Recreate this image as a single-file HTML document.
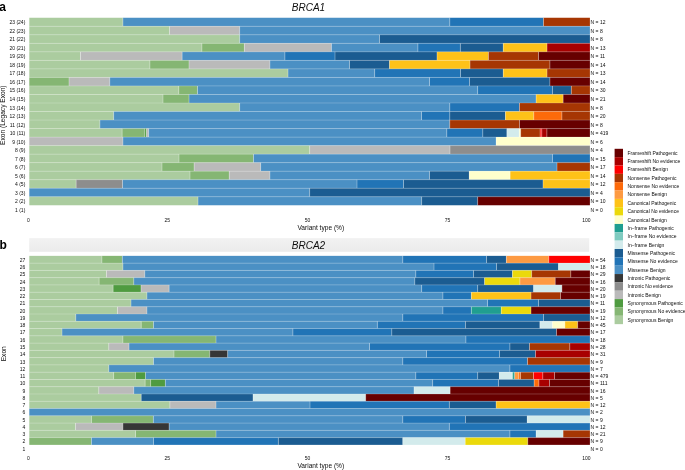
<!DOCTYPE html>
<html><head><meta charset="utf-8"><style>
html,body{margin:0;padding:0;background:#fff;width:685px;height:470px;overflow:hidden}
svg{display:block;will-change:transform}
text{font-family:'Liberation Sans', sans-serif;fill:#0d0d0d}
.s{font-size:5px}
.ax{font-size:6.6px}
.ttl{font-size:10px;font-style:italic}
.lab{font-size:12px;font-weight:bold;fill:#000}

</style></head><body>
<svg width="685" height="470" viewBox="0 0 685 470">
<rect x="0" y="0" width="685" height="470" fill="#fff"/>
<text x="-0.8" y="10.6" class="lab">a</text>
<text x="308.5" y="10.6" class="ttl" text-anchor="middle">BRCA1</text>
<g class="bars">
<rect x="29.3" y="17.75" width="93.6" height="8.52" fill="#abcc9f"/>
<rect x="122.9" y="17.75" width="326.9" height="8.52" fill="#4b90c4"/>
<rect x="449.8" y="17.75" width="93.7" height="8.52" fill="#2174b6"/>
<rect x="543.5" y="17.75" width="46.4" height="8.52" fill="#a63603"/>
<rect x="122.5" y="17.75" width="0.8" height="8.52" fill="#fff" fill-opacity="0.4"/>
<rect x="449.4" y="17.75" width="0.8" height="8.52" fill="#fff" fill-opacity="0.4"/>
<rect x="543.1" y="17.75" width="0.8" height="8.52" fill="#fff" fill-opacity="0.4"/>
<rect x="29.3" y="26.27" width="140.3" height="8.52" fill="#abcc9f"/>
<rect x="169.6" y="26.27" width="70.1" height="8.52" fill="#bababa"/>
<rect x="239.7" y="26.27" width="350.2" height="8.52" fill="#4b90c4"/>
<rect x="169.2" y="26.27" width="0.8" height="8.52" fill="#fff" fill-opacity="0.4"/>
<rect x="239.3" y="26.27" width="0.8" height="8.52" fill="#fff" fill-opacity="0.4"/>
<rect x="29.3" y="25.77" width="560.6" height="1" fill="#fff" fill-opacity="0.2"/>
<rect x="29.3" y="34.8" width="210.4" height="8.52" fill="#abcc9f"/>
<rect x="239.7" y="34.8" width="139.9" height="8.52" fill="#4b90c4"/>
<rect x="379.6" y="34.8" width="210.3" height="8.52" fill="#1b5c91"/>
<rect x="239.3" y="34.8" width="0.8" height="8.52" fill="#fff" fill-opacity="0.4"/>
<rect x="379.2" y="34.8" width="0.8" height="8.52" fill="#fff" fill-opacity="0.4"/>
<rect x="29.3" y="34.3" width="560.6" height="1" fill="#fff" fill-opacity="0.2"/>
<rect x="29.3" y="43.32" width="172.6" height="8.52" fill="#abcc9f"/>
<rect x="201.9" y="43.32" width="42.4" height="8.52" fill="#85b673"/>
<rect x="244.3" y="43.32" width="87.1" height="8.52" fill="#bababa"/>
<rect x="331.4" y="43.32" width="86.5" height="8.52" fill="#4b90c4"/>
<rect x="417.9" y="43.32" width="42.4" height="8.52" fill="#2174b6"/>
<rect x="460.3" y="43.32" width="42.9" height="8.52" fill="#1b5c91"/>
<rect x="503.2" y="43.32" width="43.8" height="8.52" fill="#fec218"/>
<rect x="547" y="43.32" width="42.9" height="8.52" fill="#a80000"/>
<rect x="201.5" y="43.32" width="0.8" height="8.52" fill="#fff" fill-opacity="0.4"/>
<rect x="243.9" y="43.32" width="0.8" height="8.52" fill="#fff" fill-opacity="0.4"/>
<rect x="331" y="43.32" width="0.8" height="8.52" fill="#fff" fill-opacity="0.4"/>
<rect x="417.5" y="43.32" width="0.8" height="8.52" fill="#fff" fill-opacity="0.4"/>
<rect x="459.9" y="43.32" width="0.8" height="8.52" fill="#fff" fill-opacity="0.4"/>
<rect x="502.8" y="43.32" width="0.8" height="8.52" fill="#fff" fill-opacity="0.4"/>
<rect x="546.6" y="43.32" width="0.8" height="8.52" fill="#fff" fill-opacity="0.4"/>
<rect x="29.3" y="42.82" width="560.6" height="1" fill="#fff" fill-opacity="0.2"/>
<rect x="29.3" y="51.85" width="51.1" height="8.52" fill="#abcc9f"/>
<rect x="80.4" y="51.85" width="101.7" height="8.52" fill="#bababa"/>
<rect x="182.1" y="51.85" width="102.8" height="8.52" fill="#4b90c4"/>
<rect x="284.9" y="51.85" width="50.1" height="8.52" fill="#2174b6"/>
<rect x="335" y="51.85" width="102" height="8.52" fill="#1b5c91"/>
<rect x="437" y="51.85" width="51.4" height="8.52" fill="#fec218"/>
<rect x="488.4" y="51.85" width="50.2" height="8.52" fill="#a63603"/>
<rect x="538.6" y="51.85" width="51.3" height="8.52" fill="#670000"/>
<rect x="80" y="51.85" width="0.8" height="8.52" fill="#fff" fill-opacity="0.4"/>
<rect x="181.7" y="51.85" width="0.8" height="8.52" fill="#fff" fill-opacity="0.4"/>
<rect x="284.5" y="51.85" width="0.8" height="8.52" fill="#fff" fill-opacity="0.4"/>
<rect x="334.6" y="51.85" width="0.8" height="8.52" fill="#fff" fill-opacity="0.4"/>
<rect x="436.6" y="51.85" width="0.8" height="8.52" fill="#fff" fill-opacity="0.4"/>
<rect x="488" y="51.85" width="0.8" height="8.52" fill="#fff" fill-opacity="0.4"/>
<rect x="538.2" y="51.85" width="0.8" height="8.52" fill="#fff" fill-opacity="0.4"/>
<rect x="29.3" y="51.35" width="560.6" height="1" fill="#fff" fill-opacity="0.2"/>
<rect x="29.3" y="60.37" width="120.6" height="8.52" fill="#abcc9f"/>
<rect x="149.9" y="60.37" width="39.1" height="8.52" fill="#85b673"/>
<rect x="189" y="60.37" width="80.9" height="8.52" fill="#bababa"/>
<rect x="269.9" y="60.37" width="79.7" height="8.52" fill="#4b90c4"/>
<rect x="349.6" y="60.37" width="39.9" height="8.52" fill="#1b5c91"/>
<rect x="389.5" y="60.37" width="80.5" height="8.52" fill="#fec218"/>
<rect x="470" y="60.37" width="79.9" height="8.52" fill="#a63603"/>
<rect x="549.9" y="60.37" width="40" height="8.52" fill="#670000"/>
<rect x="149.5" y="60.37" width="0.8" height="8.52" fill="#fff" fill-opacity="0.4"/>
<rect x="188.6" y="60.37" width="0.8" height="8.52" fill="#fff" fill-opacity="0.4"/>
<rect x="269.5" y="60.37" width="0.8" height="8.52" fill="#fff" fill-opacity="0.4"/>
<rect x="349.2" y="60.37" width="0.8" height="8.52" fill="#fff" fill-opacity="0.4"/>
<rect x="389.1" y="60.37" width="0.8" height="8.52" fill="#fff" fill-opacity="0.4"/>
<rect x="469.6" y="60.37" width="0.8" height="8.52" fill="#fff" fill-opacity="0.4"/>
<rect x="549.5" y="60.37" width="0.8" height="8.52" fill="#fff" fill-opacity="0.4"/>
<rect x="29.3" y="59.87" width="560.6" height="1" fill="#fff" fill-opacity="0.2"/>
<rect x="29.3" y="68.89" width="258.7" height="8.52" fill="#abcc9f"/>
<rect x="288" y="68.89" width="86.7" height="8.52" fill="#4b90c4"/>
<rect x="374.7" y="68.89" width="85.9" height="8.52" fill="#2174b6"/>
<rect x="460.6" y="68.89" width="42.6" height="8.52" fill="#1b5c91"/>
<rect x="503.2" y="68.89" width="43.8" height="8.52" fill="#fec218"/>
<rect x="547" y="68.89" width="42.9" height="8.52" fill="#a63603"/>
<rect x="287.6" y="68.89" width="0.8" height="8.52" fill="#fff" fill-opacity="0.4"/>
<rect x="374.3" y="68.89" width="0.8" height="8.52" fill="#fff" fill-opacity="0.4"/>
<rect x="460.2" y="68.89" width="0.8" height="8.52" fill="#fff" fill-opacity="0.4"/>
<rect x="502.8" y="68.89" width="0.8" height="8.52" fill="#fff" fill-opacity="0.4"/>
<rect x="546.6" y="68.89" width="0.8" height="8.52" fill="#fff" fill-opacity="0.4"/>
<rect x="29.3" y="68.39" width="560.6" height="1" fill="#fff" fill-opacity="0.2"/>
<rect x="29.3" y="77.42" width="39.7" height="8.52" fill="#85b673"/>
<rect x="69" y="77.42" width="40.8" height="8.52" fill="#bababa"/>
<rect x="109.8" y="77.42" width="319.8" height="8.52" fill="#4b90c4"/>
<rect x="429.6" y="77.42" width="39.9" height="8.52" fill="#2174b6"/>
<rect x="469.5" y="77.42" width="80.4" height="8.52" fill="#1b5c91"/>
<rect x="549.9" y="77.42" width="40" height="8.52" fill="#670000"/>
<rect x="68.6" y="77.42" width="0.8" height="8.52" fill="#fff" fill-opacity="0.4"/>
<rect x="109.4" y="77.42" width="0.8" height="8.52" fill="#fff" fill-opacity="0.4"/>
<rect x="429.2" y="77.42" width="0.8" height="8.52" fill="#fff" fill-opacity="0.4"/>
<rect x="469.1" y="77.42" width="0.8" height="8.52" fill="#fff" fill-opacity="0.4"/>
<rect x="549.5" y="77.42" width="0.8" height="8.52" fill="#fff" fill-opacity="0.4"/>
<rect x="29.3" y="76.92" width="560.6" height="1" fill="#fff" fill-opacity="0.2"/>
<rect x="29.3" y="85.94" width="149.5" height="8.52" fill="#abcc9f"/>
<rect x="178.8" y="85.94" width="18.7" height="8.52" fill="#85b673"/>
<rect x="197.5" y="85.94" width="280.2" height="8.52" fill="#4b90c4"/>
<rect x="477.7" y="85.94" width="74.7" height="8.52" fill="#2174b6"/>
<rect x="552.4" y="85.94" width="18.9" height="8.52" fill="#1b5c91"/>
<rect x="571.3" y="85.94" width="18.6" height="8.52" fill="#a63603"/>
<rect x="178.4" y="85.94" width="0.8" height="8.52" fill="#fff" fill-opacity="0.4"/>
<rect x="197.1" y="85.94" width="0.8" height="8.52" fill="#fff" fill-opacity="0.4"/>
<rect x="477.3" y="85.94" width="0.8" height="8.52" fill="#fff" fill-opacity="0.4"/>
<rect x="552" y="85.94" width="0.8" height="8.52" fill="#fff" fill-opacity="0.4"/>
<rect x="570.9" y="85.94" width="0.8" height="8.52" fill="#fff" fill-opacity="0.4"/>
<rect x="29.3" y="85.44" width="560.6" height="1" fill="#fff" fill-opacity="0.2"/>
<rect x="29.3" y="94.47" width="133.7" height="8.52" fill="#abcc9f"/>
<rect x="163" y="94.47" width="26" height="8.52" fill="#85b673"/>
<rect x="189" y="94.47" width="347.1" height="8.52" fill="#4b90c4"/>
<rect x="536.1" y="94.47" width="27" height="8.52" fill="#fec218"/>
<rect x="563.1" y="94.47" width="26.8" height="8.52" fill="#670000"/>
<rect x="162.6" y="94.47" width="0.8" height="8.52" fill="#fff" fill-opacity="0.4"/>
<rect x="188.6" y="94.47" width="0.8" height="8.52" fill="#fff" fill-opacity="0.4"/>
<rect x="535.7" y="94.47" width="0.8" height="8.52" fill="#fff" fill-opacity="0.4"/>
<rect x="562.7" y="94.47" width="0.8" height="8.52" fill="#fff" fill-opacity="0.4"/>
<rect x="29.3" y="93.97" width="560.6" height="1" fill="#fff" fill-opacity="0.2"/>
<rect x="29.3" y="102.99" width="210.4" height="8.52" fill="#abcc9f"/>
<rect x="239.7" y="102.99" width="210.1" height="8.52" fill="#4b90c4"/>
<rect x="449.8" y="102.99" width="69.6" height="8.52" fill="#2174b6"/>
<rect x="519.4" y="102.99" width="70.5" height="8.52" fill="#a63603"/>
<rect x="239.3" y="102.99" width="0.8" height="8.52" fill="#fff" fill-opacity="0.4"/>
<rect x="449.4" y="102.99" width="0.8" height="8.52" fill="#fff" fill-opacity="0.4"/>
<rect x="519" y="102.99" width="0.8" height="8.52" fill="#fff" fill-opacity="0.4"/>
<rect x="29.3" y="102.49" width="560.6" height="1" fill="#fff" fill-opacity="0.2"/>
<rect x="29.3" y="111.51" width="84.4" height="8.52" fill="#abcc9f"/>
<rect x="113.7" y="111.51" width="307.8" height="8.52" fill="#4b90c4"/>
<rect x="421.5" y="111.51" width="28.3" height="8.52" fill="#2174b6"/>
<rect x="449.8" y="111.51" width="55.6" height="8.52" fill="#1b5c91"/>
<rect x="505.4" y="111.51" width="28.4" height="8.52" fill="#fec218"/>
<rect x="533.8" y="111.51" width="28.1" height="8.52" fill="#fd6a0a"/>
<rect x="561.9" y="111.51" width="28" height="8.52" fill="#a63603"/>
<rect x="113.3" y="111.51" width="0.8" height="8.52" fill="#fff" fill-opacity="0.4"/>
<rect x="421.1" y="111.51" width="0.8" height="8.52" fill="#fff" fill-opacity="0.4"/>
<rect x="449.4" y="111.51" width="0.8" height="8.52" fill="#fff" fill-opacity="0.4"/>
<rect x="505" y="111.51" width="0.8" height="8.52" fill="#fff" fill-opacity="0.4"/>
<rect x="533.4" y="111.51" width="0.8" height="8.52" fill="#fff" fill-opacity="0.4"/>
<rect x="561.5" y="111.51" width="0.8" height="8.52" fill="#fff" fill-opacity="0.4"/>
<rect x="29.3" y="111.01" width="560.6" height="1" fill="#fff" fill-opacity="0.2"/>
<rect x="29.3" y="120.04" width="70.6" height="8.52" fill="#abcc9f"/>
<rect x="99.9" y="120.04" width="349.9" height="8.52" fill="#4b90c4"/>
<rect x="449.8" y="120.04" width="69.8" height="8.52" fill="#a63603"/>
<rect x="519.6" y="120.04" width="70.3" height="8.52" fill="#670000"/>
<rect x="99.5" y="120.04" width="0.8" height="8.52" fill="#fff" fill-opacity="0.4"/>
<rect x="449.4" y="120.04" width="0.8" height="8.52" fill="#fff" fill-opacity="0.4"/>
<rect x="519.2" y="120.04" width="0.8" height="8.52" fill="#fff" fill-opacity="0.4"/>
<rect x="29.3" y="119.54" width="560.6" height="1" fill="#fff" fill-opacity="0.2"/>
<rect x="29.3" y="128.56" width="92.8" height="8.52" fill="#abcc9f"/>
<rect x="122.1" y="128.56" width="22.7" height="8.52" fill="#85b673"/>
<rect x="144.8" y="128.56" width="1.8" height="8.52" fill="#4f9b40"/>
<rect x="146.6" y="128.56" width="2.1" height="8.52" fill="#bababa"/>
<rect x="148.7" y="128.56" width="298.1" height="8.52" fill="#4b90c4"/>
<rect x="446.8" y="128.56" width="36" height="8.52" fill="#2174b6"/>
<rect x="482.8" y="128.56" width="24.1" height="8.52" fill="#1b5c91"/>
<rect x="506.9" y="128.56" width="12.3" height="8.52" fill="#d3ebec"/>
<rect x="519.2" y="128.56" width="1.5" height="8.52" fill="#ffffcc"/>
<rect x="520.7" y="128.56" width="19.4" height="8.52" fill="#a63603"/>
<rect x="540.1" y="128.56" width="1.7" height="8.52" fill="#ff0000"/>
<rect x="541.8" y="128.56" width="5.1" height="8.52" fill="#a80000"/>
<rect x="546.9" y="128.56" width="43" height="8.52" fill="#670000"/>
<rect x="121.7" y="128.56" width="0.8" height="8.52" fill="#fff" fill-opacity="0.4"/>
<rect x="144.4" y="128.56" width="0.8" height="8.52" fill="#fff" fill-opacity="0.4"/>
<rect x="146.2" y="128.56" width="0.8" height="8.52" fill="#fff" fill-opacity="0.4"/>
<rect x="148.3" y="128.56" width="0.8" height="8.52" fill="#fff" fill-opacity="0.4"/>
<rect x="446.4" y="128.56" width="0.8" height="8.52" fill="#fff" fill-opacity="0.4"/>
<rect x="482.4" y="128.56" width="0.8" height="8.52" fill="#fff" fill-opacity="0.4"/>
<rect x="506.5" y="128.56" width="0.8" height="8.52" fill="#fff" fill-opacity="0.4"/>
<rect x="518.8" y="128.56" width="0.8" height="8.52" fill="#fff" fill-opacity="0.4"/>
<rect x="520.3" y="128.56" width="0.8" height="8.52" fill="#fff" fill-opacity="0.4"/>
<rect x="539.7" y="128.56" width="0.8" height="8.52" fill="#fff" fill-opacity="0.4"/>
<rect x="541.4" y="128.56" width="0.8" height="8.52" fill="#fff" fill-opacity="0.4"/>
<rect x="546.5" y="128.56" width="0.8" height="8.52" fill="#fff" fill-opacity="0.4"/>
<rect x="29.3" y="128.06" width="560.6" height="1" fill="#fff" fill-opacity="0.2"/>
<rect x="29.3" y="137.09" width="93.6" height="8.52" fill="#bababa"/>
<rect x="122.9" y="137.09" width="373.2" height="8.52" fill="#4b90c4"/>
<rect x="496.1" y="137.09" width="93.8" height="8.52" fill="#ffffcc"/>
<rect x="122.5" y="137.09" width="0.8" height="8.52" fill="#fff" fill-opacity="0.4"/>
<rect x="495.7" y="137.09" width="0.8" height="8.52" fill="#fff" fill-opacity="0.4"/>
<rect x="29.3" y="136.59" width="560.6" height="1" fill="#fff" fill-opacity="0.2"/>
<rect x="29.3" y="145.61" width="280.4" height="8.52" fill="#abcc9f"/>
<rect x="309.7" y="145.61" width="140.3" height="8.52" fill="#bababa"/>
<rect x="450" y="145.61" width="139.9" height="8.52" fill="#8d8d8d"/>
<rect x="309.3" y="145.61" width="0.8" height="8.52" fill="#fff" fill-opacity="0.4"/>
<rect x="449.6" y="145.61" width="0.8" height="8.52" fill="#fff" fill-opacity="0.4"/>
<rect x="29.3" y="145.11" width="560.6" height="1" fill="#fff" fill-opacity="0.2"/>
<rect x="29.3" y="154.13" width="149.7" height="8.52" fill="#abcc9f"/>
<rect x="179" y="154.13" width="74.5" height="8.52" fill="#85b673"/>
<rect x="253.5" y="154.13" width="298.9" height="8.52" fill="#4b90c4"/>
<rect x="552.4" y="154.13" width="37.5" height="8.52" fill="#2174b6"/>
<rect x="178.6" y="154.13" width="0.8" height="8.52" fill="#fff" fill-opacity="0.4"/>
<rect x="253.1" y="154.13" width="0.8" height="8.52" fill="#fff" fill-opacity="0.4"/>
<rect x="552" y="154.13" width="0.8" height="8.52" fill="#fff" fill-opacity="0.4"/>
<rect x="29.3" y="153.63" width="560.6" height="1" fill="#fff" fill-opacity="0.2"/>
<rect x="29.3" y="162.66" width="132.7" height="8.52" fill="#abcc9f"/>
<rect x="162" y="162.66" width="32.1" height="8.52" fill="#85b673"/>
<rect x="194.1" y="162.66" width="66.6" height="8.52" fill="#bababa"/>
<rect x="260.7" y="162.66" width="296.3" height="8.52" fill="#4b90c4"/>
<rect x="557" y="162.66" width="32.9" height="8.52" fill="#a63603"/>
<rect x="161.6" y="162.66" width="0.8" height="8.52" fill="#fff" fill-opacity="0.4"/>
<rect x="193.7" y="162.66" width="0.8" height="8.52" fill="#fff" fill-opacity="0.4"/>
<rect x="260.3" y="162.66" width="0.8" height="8.52" fill="#fff" fill-opacity="0.4"/>
<rect x="556.6" y="162.66" width="0.8" height="8.52" fill="#fff" fill-opacity="0.4"/>
<rect x="29.3" y="162.16" width="560.6" height="1" fill="#fff" fill-opacity="0.2"/>
<rect x="29.3" y="171.18" width="160.7" height="8.52" fill="#abcc9f"/>
<rect x="190" y="171.18" width="39.2" height="8.52" fill="#85b673"/>
<rect x="229.2" y="171.18" width="40.7" height="8.52" fill="#bababa"/>
<rect x="269.9" y="171.18" width="159.7" height="8.52" fill="#4b90c4"/>
<rect x="429.6" y="171.18" width="39.6" height="8.52" fill="#1b5c91"/>
<rect x="469.2" y="171.18" width="40.9" height="8.52" fill="#ffffcc"/>
<rect x="510.1" y="171.18" width="79.8" height="8.52" fill="#fec218"/>
<rect x="189.6" y="171.18" width="0.8" height="8.52" fill="#fff" fill-opacity="0.4"/>
<rect x="228.8" y="171.18" width="0.8" height="8.52" fill="#fff" fill-opacity="0.4"/>
<rect x="269.5" y="171.18" width="0.8" height="8.52" fill="#fff" fill-opacity="0.4"/>
<rect x="429.2" y="171.18" width="0.8" height="8.52" fill="#fff" fill-opacity="0.4"/>
<rect x="468.8" y="171.18" width="0.8" height="8.52" fill="#fff" fill-opacity="0.4"/>
<rect x="509.7" y="171.18" width="0.8" height="8.52" fill="#fff" fill-opacity="0.4"/>
<rect x="29.3" y="170.68" width="560.6" height="1" fill="#fff" fill-opacity="0.2"/>
<rect x="29.3" y="179.71" width="46.8" height="8.52" fill="#abcc9f"/>
<rect x="76.1" y="179.71" width="46.5" height="8.52" fill="#8d8d8d"/>
<rect x="122.6" y="179.71" width="234.4" height="8.52" fill="#4b90c4"/>
<rect x="357" y="179.71" width="46.6" height="8.52" fill="#2174b6"/>
<rect x="403.6" y="179.71" width="139.4" height="8.52" fill="#1b5c91"/>
<rect x="543" y="179.71" width="46.9" height="8.52" fill="#fec218"/>
<rect x="75.7" y="179.71" width="0.8" height="8.52" fill="#fff" fill-opacity="0.4"/>
<rect x="122.2" y="179.71" width="0.8" height="8.52" fill="#fff" fill-opacity="0.4"/>
<rect x="356.6" y="179.71" width="0.8" height="8.52" fill="#fff" fill-opacity="0.4"/>
<rect x="403.2" y="179.71" width="0.8" height="8.52" fill="#fff" fill-opacity="0.4"/>
<rect x="542.6" y="179.71" width="0.8" height="8.52" fill="#fff" fill-opacity="0.4"/>
<rect x="29.3" y="179.21" width="560.6" height="1" fill="#fff" fill-opacity="0.2"/>
<rect x="29.3" y="188.23" width="280.4" height="8.52" fill="#4b90c4"/>
<rect x="309.7" y="188.23" width="280.2" height="8.52" fill="#1b5c91"/>
<rect x="309.3" y="188.23" width="0.8" height="8.52" fill="#fff" fill-opacity="0.4"/>
<rect x="29.3" y="187.73" width="560.6" height="1" fill="#fff" fill-opacity="0.2"/>
<rect x="29.3" y="196.75" width="168.7" height="8.52" fill="#abcc9f"/>
<rect x="198" y="196.75" width="223.7" height="8.52" fill="#4b90c4"/>
<rect x="421.7" y="196.75" width="56" height="8.52" fill="#1b5c91"/>
<rect x="477.7" y="196.75" width="112.2" height="8.52" fill="#670000"/>
<rect x="197.6" y="196.75" width="0.8" height="8.52" fill="#fff" fill-opacity="0.4"/>
<rect x="421.3" y="196.75" width="0.8" height="8.52" fill="#fff" fill-opacity="0.4"/>
<rect x="477.3" y="196.75" width="0.8" height="8.52" fill="#fff" fill-opacity="0.4"/>
<rect x="29.3" y="196.25" width="560.6" height="1" fill="#fff" fill-opacity="0.2"/>
</g>
<text x="25.3" y="24.26" text-anchor="end" class="s">23 (24)</text>
<text x="590.6" y="24.26" class="s">N = 12</text>
<text x="25.3" y="32.79" text-anchor="end" class="s">22 (23)</text>
<text x="590.6" y="32.79" class="s">N = 8</text>
<text x="25.3" y="41.31" text-anchor="end" class="s">21 (22)</text>
<text x="590.6" y="41.31" class="s">N = 8</text>
<text x="25.3" y="49.83" text-anchor="end" class="s">20 (21)</text>
<text x="590.6" y="49.83" class="s">N = 13</text>
<text x="25.3" y="58.36" text-anchor="end" class="s">19 (20)</text>
<text x="590.6" y="58.36" class="s">N = 11</text>
<text x="25.3" y="66.88" text-anchor="end" class="s">18 (19)</text>
<text x="590.6" y="66.88" class="s">N = 14</text>
<text x="25.3" y="75.41" text-anchor="end" class="s">17 (18)</text>
<text x="590.6" y="75.41" class="s">N = 13</text>
<text x="25.3" y="83.93" text-anchor="end" class="s">16 (17)</text>
<text x="590.6" y="83.93" class="s">N = 14</text>
<text x="25.3" y="92.45" text-anchor="end" class="s">15 (16)</text>
<text x="590.6" y="92.45" class="s">N = 30</text>
<text x="25.3" y="100.98" text-anchor="end" class="s">14 (15)</text>
<text x="590.6" y="100.98" class="s">N = 21</text>
<text x="25.3" y="109.5" text-anchor="end" class="s">13 (14)</text>
<text x="590.6" y="109.5" class="s">N = 8</text>
<text x="25.3" y="118.03" text-anchor="end" class="s">12 (13)</text>
<text x="590.6" y="118.03" class="s">N = 20</text>
<text x="25.3" y="126.55" text-anchor="end" class="s">11 (12)</text>
<text x="590.6" y="126.55" class="s">N = 8</text>
<text x="25.3" y="135.07" text-anchor="end" class="s">10 (11)</text>
<text x="590.6" y="135.07" class="s">N = 419</text>
<text x="25.3" y="143.6" text-anchor="end" class="s">9 (10)</text>
<text x="590.6" y="143.6" class="s">N = 6</text>
<text x="25.3" y="152.12" text-anchor="end" class="s">8 (9)</text>
<text x="590.6" y="152.12" class="s">N = 4</text>
<text x="25.3" y="160.65" text-anchor="end" class="s">7 (8)</text>
<text x="590.6" y="160.65" class="s">N = 15</text>
<text x="25.3" y="169.17" text-anchor="end" class="s">6 (7)</text>
<text x="590.6" y="169.17" class="s">N = 17</text>
<text x="25.3" y="177.69" text-anchor="end" class="s">5 (6)</text>
<text x="590.6" y="177.69" class="s">N = 14</text>
<text x="25.3" y="186.22" text-anchor="end" class="s">4 (5)</text>
<text x="590.6" y="186.22" class="s">N = 12</text>
<text x="25.3" y="194.74" text-anchor="end" class="s">3 (3)</text>
<text x="590.6" y="194.74" class="s">N = 4</text>
<text x="25.3" y="203.27" text-anchor="end" class="s">2 (2)</text>
<text x="590.6" y="203.27" class="s">N = 10</text>
<text x="25.3" y="211.79" text-anchor="end" class="s">1 (1)</text>
<text x="590.6" y="211.79" class="s">N = 0</text>
<text x="29.9" y="222.2" text-anchor="end" class="s">0</text>
<text x="170.05" y="222.2" text-anchor="end" class="s">25</text>
<text x="310.2" y="222.2" text-anchor="end" class="s">50</text>
<text x="450.35" y="222.2" text-anchor="end" class="s">75</text>
<text x="590.5" y="222.2" text-anchor="end" class="s">100</text>
<text x="320.8" y="230" text-anchor="middle" class="ax">Variant type (%)</text>
<text transform="translate(5.2,115.2) rotate(-90)" text-anchor="middle" class="ax">Exon (Legacy Exon)</text>
<text x="-0.5" y="249" class="lab">b</text>
<defs><linearGradient id="hg" x1="0" y1="0" x2="0" y2="1"><stop offset="0" stop-color="#f2f2f2"/><stop offset="1" stop-color="#ebebeb"/></linearGradient></defs>
<rect x="29.2" y="238.1" width="560" height="13.7" fill="url(#hg)"/>
<text x="308.5" y="249" class="ttl" text-anchor="middle">BRCA2</text>
<g class="bars">
<rect x="29.3" y="255.85" width="72.6" height="7.27" fill="#abcc9f"/>
<rect x="101.9" y="255.85" width="20.4" height="7.27" fill="#85b673"/>
<rect x="122.3" y="255.85" width="280.5" height="7.27" fill="#4b90c4"/>
<rect x="402.8" y="255.85" width="83.8" height="7.27" fill="#2174b6"/>
<rect x="486.6" y="255.85" width="19.7" height="7.27" fill="#1b5c91"/>
<rect x="506.3" y="255.85" width="42.5" height="7.27" fill="#fd9a42"/>
<rect x="548.8" y="255.85" width="41.1" height="7.27" fill="#ff0000"/>
<rect x="101.5" y="255.85" width="0.8" height="7.27" fill="#fff" fill-opacity="0.4"/>
<rect x="121.9" y="255.85" width="0.8" height="7.27" fill="#fff" fill-opacity="0.4"/>
<rect x="402.4" y="255.85" width="0.8" height="7.27" fill="#fff" fill-opacity="0.4"/>
<rect x="486.2" y="255.85" width="0.8" height="7.27" fill="#fff" fill-opacity="0.4"/>
<rect x="505.9" y="255.85" width="0.8" height="7.27" fill="#fff" fill-opacity="0.4"/>
<rect x="548.4" y="255.85" width="0.8" height="7.27" fill="#fff" fill-opacity="0.4"/>
<rect x="29.3" y="263.12" width="93.6" height="7.27" fill="#abcc9f"/>
<rect x="122.9" y="263.12" width="311.1" height="7.27" fill="#4b90c4"/>
<rect x="434" y="263.12" width="62.6" height="7.27" fill="#2174b6"/>
<rect x="496.6" y="263.12" width="61.9" height="7.27" fill="#1b5c91"/>
<rect x="558.5" y="263.12" width="31.4" height="7.27" fill="#d3ebec"/>
<rect x="122.5" y="263.12" width="0.8" height="7.27" fill="#fff" fill-opacity="0.4"/>
<rect x="433.6" y="263.12" width="0.8" height="7.27" fill="#fff" fill-opacity="0.4"/>
<rect x="496.2" y="263.12" width="0.8" height="7.27" fill="#fff" fill-opacity="0.4"/>
<rect x="558.1" y="263.12" width="0.8" height="7.27" fill="#fff" fill-opacity="0.4"/>
<rect x="29.3" y="262.62" width="560.6" height="1" fill="#fff" fill-opacity="0.2"/>
<rect x="29.3" y="270.39" width="77.2" height="7.27" fill="#abcc9f"/>
<rect x="106.5" y="270.39" width="38.3" height="7.27" fill="#bababa"/>
<rect x="144.8" y="270.39" width="271" height="7.27" fill="#4b90c4"/>
<rect x="415.8" y="270.39" width="57.8" height="7.27" fill="#2174b6"/>
<rect x="473.6" y="270.39" width="38.8" height="7.27" fill="#1b5c91"/>
<rect x="512.4" y="270.39" width="19.3" height="7.27" fill="#ebd90b"/>
<rect x="531.7" y="270.39" width="39.1" height="7.27" fill="#a63603"/>
<rect x="570.8" y="270.39" width="19.1" height="7.27" fill="#670000"/>
<rect x="106.1" y="270.39" width="0.8" height="7.27" fill="#fff" fill-opacity="0.4"/>
<rect x="144.4" y="270.39" width="0.8" height="7.27" fill="#fff" fill-opacity="0.4"/>
<rect x="415.4" y="270.39" width="0.8" height="7.27" fill="#fff" fill-opacity="0.4"/>
<rect x="473.2" y="270.39" width="0.8" height="7.27" fill="#fff" fill-opacity="0.4"/>
<rect x="512" y="270.39" width="0.8" height="7.27" fill="#fff" fill-opacity="0.4"/>
<rect x="531.3" y="270.39" width="0.8" height="7.27" fill="#fff" fill-opacity="0.4"/>
<rect x="570.4" y="270.39" width="0.8" height="7.27" fill="#fff" fill-opacity="0.4"/>
<rect x="29.3" y="269.89" width="560.6" height="1" fill="#fff" fill-opacity="0.2"/>
<rect x="29.3" y="277.66" width="69.8" height="7.27" fill="#abcc9f"/>
<rect x="99.1" y="277.66" width="34.7" height="7.27" fill="#85b673"/>
<rect x="133.8" y="277.66" width="281" height="7.27" fill="#4b90c4"/>
<rect x="414.8" y="277.66" width="69.8" height="7.27" fill="#1b5c91"/>
<rect x="484.6" y="277.66" width="35.3" height="7.27" fill="#ebd90b"/>
<rect x="519.9" y="277.66" width="35.3" height="7.27" fill="#fd9a42"/>
<rect x="555.2" y="277.66" width="34.7" height="7.27" fill="#670000"/>
<rect x="98.7" y="277.66" width="0.8" height="7.27" fill="#fff" fill-opacity="0.4"/>
<rect x="133.4" y="277.66" width="0.8" height="7.27" fill="#fff" fill-opacity="0.4"/>
<rect x="414.4" y="277.66" width="0.8" height="7.27" fill="#fff" fill-opacity="0.4"/>
<rect x="484.2" y="277.66" width="0.8" height="7.27" fill="#fff" fill-opacity="0.4"/>
<rect x="519.5" y="277.66" width="0.8" height="7.27" fill="#fff" fill-opacity="0.4"/>
<rect x="554.8" y="277.66" width="0.8" height="7.27" fill="#fff" fill-opacity="0.4"/>
<rect x="29.3" y="277.16" width="560.6" height="1" fill="#fff" fill-opacity="0.2"/>
<rect x="29.3" y="284.93" width="83.8" height="7.27" fill="#abcc9f"/>
<rect x="113.1" y="284.93" width="27.9" height="7.27" fill="#4f9b40"/>
<rect x="141" y="284.93" width="28.1" height="7.27" fill="#bababa"/>
<rect x="169.1" y="284.93" width="252.6" height="7.27" fill="#4b90c4"/>
<rect x="421.7" y="284.93" width="56" height="7.27" fill="#2174b6"/>
<rect x="477.7" y="284.93" width="55.9" height="7.27" fill="#1b5c91"/>
<rect x="533.6" y="284.93" width="28.3" height="7.27" fill="#d3ebec"/>
<rect x="561.9" y="284.93" width="28" height="7.27" fill="#670000"/>
<rect x="112.7" y="284.93" width="0.8" height="7.27" fill="#fff" fill-opacity="0.4"/>
<rect x="140.6" y="284.93" width="0.8" height="7.27" fill="#fff" fill-opacity="0.4"/>
<rect x="168.7" y="284.93" width="0.8" height="7.27" fill="#fff" fill-opacity="0.4"/>
<rect x="421.3" y="284.93" width="0.8" height="7.27" fill="#fff" fill-opacity="0.4"/>
<rect x="477.3" y="284.93" width="0.8" height="7.27" fill="#fff" fill-opacity="0.4"/>
<rect x="533.2" y="284.93" width="0.8" height="7.27" fill="#fff" fill-opacity="0.4"/>
<rect x="561.5" y="284.93" width="0.8" height="7.27" fill="#fff" fill-opacity="0.4"/>
<rect x="29.3" y="284.43" width="560.6" height="1" fill="#fff" fill-opacity="0.2"/>
<rect x="29.3" y="292.2" width="117.6" height="7.27" fill="#abcc9f"/>
<rect x="146.9" y="292.2" width="296" height="7.27" fill="#4b90c4"/>
<rect x="442.9" y="292.2" width="28.4" height="7.27" fill="#2174b6"/>
<rect x="471.3" y="292.2" width="59.7" height="7.27" fill="#fec218"/>
<rect x="531" y="292.2" width="29.6" height="7.27" fill="#a63603"/>
<rect x="560.6" y="292.2" width="29.3" height="7.27" fill="#670000"/>
<rect x="146.5" y="292.2" width="0.8" height="7.27" fill="#fff" fill-opacity="0.4"/>
<rect x="442.5" y="292.2" width="0.8" height="7.27" fill="#fff" fill-opacity="0.4"/>
<rect x="470.9" y="292.2" width="0.8" height="7.27" fill="#fff" fill-opacity="0.4"/>
<rect x="530.6" y="292.2" width="0.8" height="7.27" fill="#fff" fill-opacity="0.4"/>
<rect x="560.2" y="292.2" width="0.8" height="7.27" fill="#fff" fill-opacity="0.4"/>
<rect x="29.3" y="291.7" width="560.6" height="1" fill="#fff" fill-opacity="0.2"/>
<rect x="29.3" y="299.47" width="101.7" height="7.27" fill="#abcc9f"/>
<rect x="131" y="299.47" width="356.6" height="7.27" fill="#4b90c4"/>
<rect x="487.6" y="299.47" width="51" height="7.27" fill="#2174b6"/>
<rect x="538.6" y="299.47" width="51.3" height="7.27" fill="#1b5c91"/>
<rect x="130.6" y="299.47" width="0.8" height="7.27" fill="#fff" fill-opacity="0.4"/>
<rect x="487.2" y="299.47" width="0.8" height="7.27" fill="#fff" fill-opacity="0.4"/>
<rect x="538.2" y="299.47" width="0.8" height="7.27" fill="#fff" fill-opacity="0.4"/>
<rect x="29.3" y="298.97" width="560.6" height="1" fill="#fff" fill-opacity="0.2"/>
<rect x="29.3" y="306.74" width="88.2" height="7.27" fill="#abcc9f"/>
<rect x="117.5" y="306.74" width="29.4" height="7.27" fill="#bababa"/>
<rect x="146.9" y="306.74" width="296" height="7.27" fill="#4b90c4"/>
<rect x="442.9" y="306.74" width="28.4" height="7.27" fill="#2174b6"/>
<rect x="471.3" y="306.74" width="29.9" height="7.27" fill="#209e90"/>
<rect x="501.2" y="306.74" width="29.8" height="7.27" fill="#ebd90b"/>
<rect x="531" y="306.74" width="58.9" height="7.27" fill="#670000"/>
<rect x="117.1" y="306.74" width="0.8" height="7.27" fill="#fff" fill-opacity="0.4"/>
<rect x="146.5" y="306.74" width="0.8" height="7.27" fill="#fff" fill-opacity="0.4"/>
<rect x="442.5" y="306.74" width="0.8" height="7.27" fill="#fff" fill-opacity="0.4"/>
<rect x="470.9" y="306.74" width="0.8" height="7.27" fill="#fff" fill-opacity="0.4"/>
<rect x="500.8" y="306.74" width="0.8" height="7.27" fill="#fff" fill-opacity="0.4"/>
<rect x="530.6" y="306.74" width="0.8" height="7.27" fill="#fff" fill-opacity="0.4"/>
<rect x="29.3" y="306.24" width="560.6" height="1" fill="#fff" fill-opacity="0.2"/>
<rect x="29.3" y="314.01" width="46.5" height="7.27" fill="#abcc9f"/>
<rect x="75.8" y="314.01" width="327" height="7.27" fill="#4b90c4"/>
<rect x="402.8" y="314.01" width="140.7" height="7.27" fill="#2174b6"/>
<rect x="543.5" y="314.01" width="46.4" height="7.27" fill="#1b5c91"/>
<rect x="75.4" y="314.01" width="0.8" height="7.27" fill="#fff" fill-opacity="0.4"/>
<rect x="402.4" y="314.01" width="0.8" height="7.27" fill="#fff" fill-opacity="0.4"/>
<rect x="543.1" y="314.01" width="0.8" height="7.27" fill="#fff" fill-opacity="0.4"/>
<rect x="29.3" y="313.51" width="560.6" height="1" fill="#fff" fill-opacity="0.2"/>
<rect x="29.3" y="321.28" width="111.9" height="7.27" fill="#abcc9f"/>
<rect x="141.2" y="321.28" width="12.3" height="7.27" fill="#85b673"/>
<rect x="153.5" y="321.28" width="223.8" height="7.27" fill="#4b90c4"/>
<rect x="377.3" y="321.28" width="88.1" height="7.27" fill="#2174b6"/>
<rect x="465.4" y="321.28" width="74.5" height="7.27" fill="#1b5c91"/>
<rect x="539.9" y="321.28" width="12.5" height="7.27" fill="#d3ebec"/>
<rect x="552.4" y="321.28" width="12.5" height="7.27" fill="#ffffcc"/>
<rect x="564.9" y="321.28" width="12.8" height="7.27" fill="#fec218"/>
<rect x="577.7" y="321.28" width="12.2" height="7.27" fill="#670000"/>
<rect x="140.8" y="321.28" width="0.8" height="7.27" fill="#fff" fill-opacity="0.4"/>
<rect x="153.1" y="321.28" width="0.8" height="7.27" fill="#fff" fill-opacity="0.4"/>
<rect x="376.9" y="321.28" width="0.8" height="7.27" fill="#fff" fill-opacity="0.4"/>
<rect x="465" y="321.28" width="0.8" height="7.27" fill="#fff" fill-opacity="0.4"/>
<rect x="539.5" y="321.28" width="0.8" height="7.27" fill="#fff" fill-opacity="0.4"/>
<rect x="552" y="321.28" width="0.8" height="7.27" fill="#fff" fill-opacity="0.4"/>
<rect x="564.5" y="321.28" width="0.8" height="7.27" fill="#fff" fill-opacity="0.4"/>
<rect x="577.3" y="321.28" width="0.8" height="7.27" fill="#fff" fill-opacity="0.4"/>
<rect x="29.3" y="320.78" width="560.6" height="1" fill="#fff" fill-opacity="0.2"/>
<rect x="29.3" y="328.55" width="32.7" height="7.27" fill="#abcc9f"/>
<rect x="62" y="328.55" width="230.9" height="7.27" fill="#4b90c4"/>
<rect x="292.9" y="328.55" width="98.9" height="7.27" fill="#2174b6"/>
<rect x="391.8" y="328.55" width="164.7" height="7.27" fill="#1b5c91"/>
<rect x="556.5" y="328.55" width="33.4" height="7.27" fill="#670000"/>
<rect x="61.6" y="328.55" width="0.8" height="7.27" fill="#fff" fill-opacity="0.4"/>
<rect x="292.5" y="328.55" width="0.8" height="7.27" fill="#fff" fill-opacity="0.4"/>
<rect x="391.4" y="328.55" width="0.8" height="7.27" fill="#fff" fill-opacity="0.4"/>
<rect x="556.1" y="328.55" width="0.8" height="7.27" fill="#fff" fill-opacity="0.4"/>
<rect x="29.3" y="328.05" width="560.6" height="1" fill="#fff" fill-opacity="0.2"/>
<rect x="29.3" y="335.82" width="93.6" height="7.27" fill="#abcc9f"/>
<rect x="122.9" y="335.82" width="93.1" height="7.27" fill="#85b673"/>
<rect x="216" y="335.82" width="249.9" height="7.27" fill="#4b90c4"/>
<rect x="465.9" y="335.82" width="124" height="7.27" fill="#2174b6"/>
<rect x="122.5" y="335.82" width="0.8" height="7.27" fill="#fff" fill-opacity="0.4"/>
<rect x="215.6" y="335.82" width="0.8" height="7.27" fill="#fff" fill-opacity="0.4"/>
<rect x="465.5" y="335.82" width="0.8" height="7.27" fill="#fff" fill-opacity="0.4"/>
<rect x="29.3" y="335.32" width="560.6" height="1" fill="#fff" fill-opacity="0.2"/>
<rect x="29.3" y="343.09" width="79.5" height="7.27" fill="#abcc9f"/>
<rect x="108.8" y="343.09" width="20.2" height="7.27" fill="#bababa"/>
<rect x="129" y="343.09" width="240.6" height="7.27" fill="#4b90c4"/>
<rect x="369.6" y="343.09" width="140.3" height="7.27" fill="#2174b6"/>
<rect x="509.9" y="343.09" width="19.7" height="7.27" fill="#1b5c91"/>
<rect x="529.6" y="343.09" width="40.2" height="7.27" fill="#a63603"/>
<rect x="569.8" y="343.09" width="20.1" height="7.27" fill="#a80000"/>
<rect x="108.4" y="343.09" width="0.8" height="7.27" fill="#fff" fill-opacity="0.4"/>
<rect x="128.6" y="343.09" width="0.8" height="7.27" fill="#fff" fill-opacity="0.4"/>
<rect x="369.2" y="343.09" width="0.8" height="7.27" fill="#fff" fill-opacity="0.4"/>
<rect x="509.5" y="343.09" width="0.8" height="7.27" fill="#fff" fill-opacity="0.4"/>
<rect x="529.2" y="343.09" width="0.8" height="7.27" fill="#fff" fill-opacity="0.4"/>
<rect x="569.4" y="343.09" width="0.8" height="7.27" fill="#fff" fill-opacity="0.4"/>
<rect x="29.3" y="342.59" width="560.6" height="1" fill="#fff" fill-opacity="0.2"/>
<rect x="29.3" y="350.36" width="144.7" height="7.27" fill="#abcc9f"/>
<rect x="174" y="350.36" width="35.8" height="7.27" fill="#85b673"/>
<rect x="209.8" y="350.36" width="17.9" height="7.27" fill="#363636"/>
<rect x="227.7" y="350.36" width="198.9" height="7.27" fill="#4b90c4"/>
<rect x="426.6" y="350.36" width="73" height="7.27" fill="#2174b6"/>
<rect x="499.6" y="350.36" width="35.9" height="7.27" fill="#1b5c91"/>
<rect x="535.5" y="350.36" width="54.4" height="7.27" fill="#a80000"/>
<rect x="173.6" y="350.36" width="0.8" height="7.27" fill="#fff" fill-opacity="0.4"/>
<rect x="209.4" y="350.36" width="0.8" height="7.27" fill="#fff" fill-opacity="0.4"/>
<rect x="227.3" y="350.36" width="0.8" height="7.27" fill="#fff" fill-opacity="0.4"/>
<rect x="426.2" y="350.36" width="0.8" height="7.27" fill="#fff" fill-opacity="0.4"/>
<rect x="499.2" y="350.36" width="0.8" height="7.27" fill="#fff" fill-opacity="0.4"/>
<rect x="535.1" y="350.36" width="0.8" height="7.27" fill="#fff" fill-opacity="0.4"/>
<rect x="29.3" y="349.86" width="560.6" height="1" fill="#fff" fill-opacity="0.2"/>
<rect x="29.3" y="357.63" width="124.2" height="7.27" fill="#abcc9f"/>
<rect x="153.5" y="357.63" width="249.3" height="7.27" fill="#4b90c4"/>
<rect x="402.8" y="357.63" width="124.7" height="7.27" fill="#2174b6"/>
<rect x="527.5" y="357.63" width="62.4" height="7.27" fill="#a63603"/>
<rect x="153.1" y="357.63" width="0.8" height="7.27" fill="#fff" fill-opacity="0.4"/>
<rect x="402.4" y="357.63" width="0.8" height="7.27" fill="#fff" fill-opacity="0.4"/>
<rect x="527.1" y="357.63" width="0.8" height="7.27" fill="#fff" fill-opacity="0.4"/>
<rect x="29.3" y="357.13" width="560.6" height="1" fill="#fff" fill-opacity="0.2"/>
<rect x="29.3" y="364.9" width="79.5" height="7.27" fill="#abcc9f"/>
<rect x="108.8" y="364.9" width="401.1" height="7.27" fill="#4b90c4"/>
<rect x="509.9" y="364.9" width="80" height="7.27" fill="#2174b6"/>
<rect x="108.4" y="364.9" width="0.8" height="7.27" fill="#fff" fill-opacity="0.4"/>
<rect x="509.5" y="364.9" width="0.8" height="7.27" fill="#fff" fill-opacity="0.4"/>
<rect x="29.3" y="364.4" width="560.6" height="1" fill="#fff" fill-opacity="0.2"/>
<rect x="29.3" y="372.17" width="84.4" height="7.27" fill="#abcc9f"/>
<rect x="113.7" y="372.17" width="21.7" height="7.27" fill="#85b673"/>
<rect x="135.4" y="372.17" width="10.2" height="7.27" fill="#4f9b40"/>
<rect x="145.6" y="372.17" width="270.2" height="7.27" fill="#4b90c4"/>
<rect x="415.8" y="372.17" width="61.9" height="7.27" fill="#2174b6"/>
<rect x="477.7" y="372.17" width="21.6" height="7.27" fill="#1b5c91"/>
<rect x="499.3" y="372.17" width="12.6" height="7.27" fill="#d3ebec"/>
<rect x="511.9" y="372.17" width="0.9" height="7.27" fill="#7fcbc0"/>
<rect x="512.8" y="372.17" width="1.9" height="7.27" fill="#209e90"/>
<rect x="514.7" y="372.17" width="4.1" height="7.27" fill="#fd9a42"/>
<rect x="518.8" y="372.17" width="1.8" height="7.27" fill="#fd6a0a"/>
<rect x="520.6" y="372.17" width="12.8" height="7.27" fill="#a63603"/>
<rect x="533.4" y="372.17" width="9.4" height="7.27" fill="#ff0000"/>
<rect x="542.8" y="372.17" width="11.8" height="7.27" fill="#a80000"/>
<rect x="554.6" y="372.17" width="35.3" height="7.27" fill="#670000"/>
<rect x="113.3" y="372.17" width="0.8" height="7.27" fill="#fff" fill-opacity="0.4"/>
<rect x="135" y="372.17" width="0.8" height="7.27" fill="#fff" fill-opacity="0.4"/>
<rect x="145.2" y="372.17" width="0.8" height="7.27" fill="#fff" fill-opacity="0.4"/>
<rect x="415.4" y="372.17" width="0.8" height="7.27" fill="#fff" fill-opacity="0.4"/>
<rect x="477.3" y="372.17" width="0.8" height="7.27" fill="#fff" fill-opacity="0.4"/>
<rect x="498.9" y="372.17" width="0.8" height="7.27" fill="#fff" fill-opacity="0.4"/>
<rect x="511.5" y="372.17" width="0.8" height="7.27" fill="#fff" fill-opacity="0.4"/>
<rect x="512.4" y="372.17" width="0.8" height="7.27" fill="#fff" fill-opacity="0.4"/>
<rect x="514.3" y="372.17" width="0.8" height="7.27" fill="#fff" fill-opacity="0.4"/>
<rect x="518.4" y="372.17" width="0.8" height="7.27" fill="#fff" fill-opacity="0.4"/>
<rect x="520.2" y="372.17" width="0.8" height="7.27" fill="#fff" fill-opacity="0.4"/>
<rect x="533" y="372.17" width="0.8" height="7.27" fill="#fff" fill-opacity="0.4"/>
<rect x="542.4" y="372.17" width="0.8" height="7.27" fill="#fff" fill-opacity="0.4"/>
<rect x="554.2" y="372.17" width="0.8" height="7.27" fill="#fff" fill-opacity="0.4"/>
<rect x="29.3" y="371.67" width="560.6" height="1" fill="#fff" fill-opacity="0.2"/>
<rect x="29.3" y="379.44" width="115.8" height="7.27" fill="#abcc9f"/>
<rect x="145.1" y="379.44" width="5.6" height="7.27" fill="#85b673"/>
<rect x="150.7" y="379.44" width="14.6" height="7.27" fill="#4f9b40"/>
<rect x="165.3" y="379.44" width="267.4" height="7.27" fill="#4b90c4"/>
<rect x="432.7" y="379.44" width="65.8" height="7.27" fill="#2174b6"/>
<rect x="498.5" y="379.44" width="35.6" height="7.27" fill="#1b5c91"/>
<rect x="534.1" y="379.44" width="4.8" height="7.27" fill="#fd6a0a"/>
<rect x="538.9" y="379.44" width="10.6" height="7.27" fill="#a80000"/>
<rect x="549.5" y="379.44" width="40.4" height="7.27" fill="#670000"/>
<rect x="144.7" y="379.44" width="0.8" height="7.27" fill="#fff" fill-opacity="0.4"/>
<rect x="150.3" y="379.44" width="0.8" height="7.27" fill="#fff" fill-opacity="0.4"/>
<rect x="164.9" y="379.44" width="0.8" height="7.27" fill="#fff" fill-opacity="0.4"/>
<rect x="432.3" y="379.44" width="0.8" height="7.27" fill="#fff" fill-opacity="0.4"/>
<rect x="498.1" y="379.44" width="0.8" height="7.27" fill="#fff" fill-opacity="0.4"/>
<rect x="533.7" y="379.44" width="0.8" height="7.27" fill="#fff" fill-opacity="0.4"/>
<rect x="538.5" y="379.44" width="0.8" height="7.27" fill="#fff" fill-opacity="0.4"/>
<rect x="549.1" y="379.44" width="0.8" height="7.27" fill="#fff" fill-opacity="0.4"/>
<rect x="29.3" y="378.94" width="560.6" height="1" fill="#fff" fill-opacity="0.2"/>
<rect x="29.3" y="386.71" width="69.5" height="7.27" fill="#abcc9f"/>
<rect x="98.8" y="386.71" width="35" height="7.27" fill="#bababa"/>
<rect x="133.8" y="386.71" width="280.2" height="7.27" fill="#4b90c4"/>
<rect x="414" y="386.71" width="36.1" height="7.27" fill="#d3ebec"/>
<rect x="450.1" y="386.71" width="139.8" height="7.27" fill="#670000"/>
<rect x="98.4" y="386.71" width="0.8" height="7.27" fill="#fff" fill-opacity="0.4"/>
<rect x="133.4" y="386.71" width="0.8" height="7.27" fill="#fff" fill-opacity="0.4"/>
<rect x="413.6" y="386.71" width="0.8" height="7.27" fill="#fff" fill-opacity="0.4"/>
<rect x="449.7" y="386.71" width="0.8" height="7.27" fill="#fff" fill-opacity="0.4"/>
<rect x="29.3" y="386.21" width="560.6" height="1" fill="#fff" fill-opacity="0.2"/>
<rect x="29.3" y="393.98" width="111.9" height="7.27" fill="#abcc9f"/>
<rect x="141.2" y="393.98" width="111.8" height="7.27" fill="#1b5c91"/>
<rect x="253" y="393.98" width="112.7" height="7.27" fill="#d3ebec"/>
<rect x="365.7" y="393.98" width="224.2" height="7.27" fill="#670000"/>
<rect x="140.8" y="393.98" width="0.8" height="7.27" fill="#fff" fill-opacity="0.4"/>
<rect x="252.6" y="393.98" width="0.8" height="7.27" fill="#fff" fill-opacity="0.4"/>
<rect x="365.3" y="393.98" width="0.8" height="7.27" fill="#fff" fill-opacity="0.4"/>
<rect x="29.3" y="393.48" width="560.6" height="1" fill="#fff" fill-opacity="0.2"/>
<rect x="29.3" y="401.25" width="140.6" height="7.27" fill="#abcc9f"/>
<rect x="169.9" y="401.25" width="46.1" height="7.27" fill="#bababa"/>
<rect x="216" y="401.25" width="94" height="7.27" fill="#4b90c4"/>
<rect x="310" y="401.25" width="139.3" height="7.27" fill="#2174b6"/>
<rect x="449.3" y="401.25" width="46.8" height="7.27" fill="#1b5c91"/>
<rect x="496.1" y="401.25" width="93.8" height="7.27" fill="#fec218"/>
<rect x="169.5" y="401.25" width="0.8" height="7.27" fill="#fff" fill-opacity="0.4"/>
<rect x="215.6" y="401.25" width="0.8" height="7.27" fill="#fff" fill-opacity="0.4"/>
<rect x="309.6" y="401.25" width="0.8" height="7.27" fill="#fff" fill-opacity="0.4"/>
<rect x="448.9" y="401.25" width="0.8" height="7.27" fill="#fff" fill-opacity="0.4"/>
<rect x="495.7" y="401.25" width="0.8" height="7.27" fill="#fff" fill-opacity="0.4"/>
<rect x="29.3" y="400.75" width="560.6" height="1" fill="#fff" fill-opacity="0.2"/>
<rect x="29.3" y="408.52" width="560.6" height="7.27" fill="#4b90c4"/>
<rect x="29.3" y="408.02" width="560.6" height="1" fill="#fff" fill-opacity="0.2"/>
<rect x="29.3" y="415.79" width="62.1" height="7.27" fill="#abcc9f"/>
<rect x="91.4" y="415.79" width="61.9" height="7.27" fill="#85b673"/>
<rect x="153.3" y="415.79" width="249.5" height="7.27" fill="#4b90c4"/>
<rect x="402.8" y="415.79" width="62.6" height="7.27" fill="#2174b6"/>
<rect x="465.4" y="415.79" width="61.8" height="7.27" fill="#1b5c91"/>
<rect x="527.2" y="415.79" width="62.7" height="7.27" fill="#d3ebec"/>
<rect x="91" y="415.79" width="0.8" height="7.27" fill="#fff" fill-opacity="0.4"/>
<rect x="152.9" y="415.79" width="0.8" height="7.27" fill="#fff" fill-opacity="0.4"/>
<rect x="402.4" y="415.79" width="0.8" height="7.27" fill="#fff" fill-opacity="0.4"/>
<rect x="465" y="415.79" width="0.8" height="7.27" fill="#fff" fill-opacity="0.4"/>
<rect x="526.8" y="415.79" width="0.8" height="7.27" fill="#fff" fill-opacity="0.4"/>
<rect x="29.3" y="415.29" width="560.6" height="1" fill="#fff" fill-opacity="0.2"/>
<rect x="29.3" y="423.06" width="46.3" height="7.27" fill="#abcc9f"/>
<rect x="75.6" y="423.06" width="47.3" height="7.27" fill="#bababa"/>
<rect x="122.9" y="423.06" width="46.2" height="7.27" fill="#363636"/>
<rect x="169.1" y="423.06" width="280.2" height="7.27" fill="#4b90c4"/>
<rect x="449.3" y="423.06" width="140.6" height="7.27" fill="#2174b6"/>
<rect x="75.2" y="423.06" width="0.8" height="7.27" fill="#fff" fill-opacity="0.4"/>
<rect x="122.5" y="423.06" width="0.8" height="7.27" fill="#fff" fill-opacity="0.4"/>
<rect x="168.7" y="423.06" width="0.8" height="7.27" fill="#fff" fill-opacity="0.4"/>
<rect x="448.9" y="423.06" width="0.8" height="7.27" fill="#fff" fill-opacity="0.4"/>
<rect x="29.3" y="422.56" width="560.6" height="1" fill="#fff" fill-opacity="0.2"/>
<rect x="29.3" y="430.33" width="106.3" height="7.27" fill="#abcc9f"/>
<rect x="135.6" y="430.33" width="80.4" height="7.27" fill="#85b673"/>
<rect x="216" y="430.33" width="293.9" height="7.27" fill="#4b90c4"/>
<rect x="509.9" y="430.33" width="26.2" height="7.27" fill="#2174b6"/>
<rect x="536.1" y="430.33" width="27" height="7.27" fill="#d3ebec"/>
<rect x="563.1" y="430.33" width="26.8" height="7.27" fill="#a63603"/>
<rect x="135.2" y="430.33" width="0.8" height="7.27" fill="#fff" fill-opacity="0.4"/>
<rect x="215.6" y="430.33" width="0.8" height="7.27" fill="#fff" fill-opacity="0.4"/>
<rect x="509.5" y="430.33" width="0.8" height="7.27" fill="#fff" fill-opacity="0.4"/>
<rect x="535.7" y="430.33" width="0.8" height="7.27" fill="#fff" fill-opacity="0.4"/>
<rect x="562.7" y="430.33" width="0.8" height="7.27" fill="#fff" fill-opacity="0.4"/>
<rect x="29.3" y="429.83" width="560.6" height="1" fill="#fff" fill-opacity="0.2"/>
<rect x="29.3" y="437.6" width="62.1" height="7.27" fill="#85b673"/>
<rect x="91.4" y="437.6" width="62.1" height="7.27" fill="#4b90c4"/>
<rect x="153.5" y="437.6" width="124.8" height="7.27" fill="#2174b6"/>
<rect x="278.3" y="437.6" width="124.5" height="7.27" fill="#1b5c91"/>
<rect x="402.8" y="437.6" width="62.4" height="7.27" fill="#d3ebec"/>
<rect x="465.2" y="437.6" width="62.6" height="7.27" fill="#ebd90b"/>
<rect x="527.8" y="437.6" width="62.1" height="7.27" fill="#670000"/>
<rect x="91" y="437.6" width="0.8" height="7.27" fill="#fff" fill-opacity="0.4"/>
<rect x="153.1" y="437.6" width="0.8" height="7.27" fill="#fff" fill-opacity="0.4"/>
<rect x="277.9" y="437.6" width="0.8" height="7.27" fill="#fff" fill-opacity="0.4"/>
<rect x="402.4" y="437.6" width="0.8" height="7.27" fill="#fff" fill-opacity="0.4"/>
<rect x="464.8" y="437.6" width="0.8" height="7.27" fill="#fff" fill-opacity="0.4"/>
<rect x="527.4" y="437.6" width="0.8" height="7.27" fill="#fff" fill-opacity="0.4"/>
<rect x="29.3" y="437.1" width="560.6" height="1" fill="#fff" fill-opacity="0.2"/>
</g>
<text x="25.3" y="261.74" text-anchor="end" class="s">27</text>
<text x="590.6" y="261.74" class="s">N = 54</text>
<text x="25.3" y="269" text-anchor="end" class="s">26</text>
<text x="590.6" y="269" class="s">N = 18</text>
<text x="25.3" y="276.27" text-anchor="end" class="s">25</text>
<text x="590.6" y="276.27" class="s">N = 29</text>
<text x="25.3" y="283.54" text-anchor="end" class="s">24</text>
<text x="590.6" y="283.54" class="s">N = 16</text>
<text x="25.3" y="290.81" text-anchor="end" class="s">23</text>
<text x="590.6" y="290.81" class="s">N = 20</text>
<text x="25.3" y="298.08" text-anchor="end" class="s">22</text>
<text x="590.6" y="298.08" class="s">N = 19</text>
<text x="25.3" y="305.35" text-anchor="end" class="s">21</text>
<text x="590.6" y="305.35" class="s">N = 11</text>
<text x="25.3" y="312.62" text-anchor="end" class="s">20</text>
<text x="590.6" y="312.62" class="s">N = 19</text>
<text x="25.3" y="319.89" text-anchor="end" class="s">19</text>
<text x="590.6" y="319.89" class="s">N = 12</text>
<text x="25.3" y="327.16" text-anchor="end" class="s">18</text>
<text x="590.6" y="327.16" class="s">N = 45</text>
<text x="25.3" y="334.43" text-anchor="end" class="s">17</text>
<text x="590.6" y="334.43" class="s">N = 17</text>
<text x="25.3" y="341.7" text-anchor="end" class="s">16</text>
<text x="590.6" y="341.7" class="s">N = 18</text>
<text x="25.3" y="348.97" text-anchor="end" class="s">15</text>
<text x="590.6" y="348.97" class="s">N = 28</text>
<text x="25.3" y="356.25" text-anchor="end" class="s">14</text>
<text x="590.6" y="356.25" class="s">N = 31</text>
<text x="25.3" y="363.51" text-anchor="end" class="s">13</text>
<text x="590.6" y="363.51" class="s">N = 9</text>
<text x="25.3" y="370.78" text-anchor="end" class="s">12</text>
<text x="590.6" y="370.78" class="s">N = 7</text>
<text x="25.3" y="378.05" text-anchor="end" class="s">11</text>
<text x="590.6" y="378.05" class="s">N = 479</text>
<text x="25.3" y="385.32" text-anchor="end" class="s">10</text>
<text x="590.6" y="385.32" class="s">N = 111</text>
<text x="25.3" y="392.59" text-anchor="end" class="s">9</text>
<text x="590.6" y="392.59" class="s">N = 16</text>
<text x="25.3" y="399.87" text-anchor="end" class="s">8</text>
<text x="590.6" y="399.87" class="s">N = 5</text>
<text x="25.3" y="407.13" text-anchor="end" class="s">7</text>
<text x="590.6" y="407.13" class="s">N = 12</text>
<text x="25.3" y="414.4" text-anchor="end" class="s">6</text>
<text x="590.6" y="414.4" class="s">N = 2</text>
<text x="25.3" y="421.67" text-anchor="end" class="s">5</text>
<text x="590.6" y="421.67" class="s">N = 9</text>
<text x="25.3" y="428.94" text-anchor="end" class="s">4</text>
<text x="590.6" y="428.94" class="s">N = 12</text>
<text x="25.3" y="436.21" text-anchor="end" class="s">3</text>
<text x="590.6" y="436.21" class="s">N = 21</text>
<text x="25.3" y="443.49" text-anchor="end" class="s">2</text>
<text x="590.6" y="443.49" class="s">N = 9</text>
<text x="25.3" y="450.75" text-anchor="end" class="s">1</text>
<text x="590.6" y="450.75" class="s">N = 0</text>
<text x="29.9" y="460.3" text-anchor="end" class="s">0</text>
<text x="170.05" y="460.3" text-anchor="end" class="s">25</text>
<text x="310.2" y="460.3" text-anchor="end" class="s">50</text>
<text x="450.35" y="460.3" text-anchor="end" class="s">75</text>
<text x="590.5" y="460.3" text-anchor="end" class="s">100</text>
<text x="320.8" y="468.4" text-anchor="middle" class="ax">Variant type (%)</text>
<text transform="translate(5.6,353.8) rotate(-90)" text-anchor="middle" class="ax">Exon</text>
<rect x="614.6" y="148.8" width="8.4" height="8.35" fill="#670000"/>
<text x="627.5" y="154.7" class="s">Frameshift Pathogenic</text>
<rect x="614.6" y="157.15" width="8.4" height="8.35" fill="#a80000"/>
<text x="627.5" y="163.05" class="s">Frameshift No evidence</text>
<rect x="614.6" y="165.5" width="8.4" height="8.35" fill="#ff0000"/>
<text x="627.5" y="171.4" class="s">Frameshift Benign</text>
<rect x="614.6" y="173.85" width="8.4" height="8.35" fill="#a63603"/>
<text x="627.5" y="179.75" class="s">Nonsense Pathogenic</text>
<rect x="614.6" y="182.2" width="8.4" height="8.35" fill="#fd6a0a"/>
<text x="627.5" y="188.1" class="s">Nonsense No evidence</text>
<rect x="614.6" y="190.55" width="8.4" height="8.35" fill="#fd9a42"/>
<text x="627.5" y="196.45" class="s">Nonsense Benign</text>
<rect x="614.6" y="198.9" width="8.4" height="8.35" fill="#fec218"/>
<text x="627.5" y="204.8" class="s">Canonical Pathogenic</text>
<rect x="614.6" y="207.25" width="8.4" height="8.35" fill="#ebd90b"/>
<text x="627.5" y="213.15" class="s">Canonical No evidence</text>
<rect x="614.6" y="215.6" width="8.4" height="8.35" fill="#ffffcc"/>
<text x="627.5" y="221.5" class="s">Canonical Benign</text>
<rect x="614.6" y="223.95" width="8.4" height="8.35" fill="#209e90"/>
<text x="627.5" y="229.85" class="s">In−frame Pathogenic</text>
<rect x="614.6" y="232.3" width="8.4" height="8.35" fill="#7fcbc0"/>
<text x="627.5" y="238.2" class="s">In−frame No evidence</text>
<rect x="614.6" y="240.65" width="8.4" height="8.35" fill="#d3ebec"/>
<text x="627.5" y="246.55" class="s">In−frame Benign</text>
<rect x="614.6" y="249" width="8.4" height="8.35" fill="#1b5c91"/>
<text x="627.5" y="254.9" class="s">Missense Pathogenic</text>
<rect x="614.6" y="257.35" width="8.4" height="8.35" fill="#2174b6"/>
<text x="627.5" y="263.25" class="s">Missense No evidence</text>
<rect x="614.6" y="265.7" width="8.4" height="8.35" fill="#4b90c4"/>
<text x="627.5" y="271.6" class="s">Missense Benign</text>
<rect x="614.6" y="274.05" width="8.4" height="8.35" fill="#363636"/>
<text x="627.5" y="279.95" class="s">Intronic Pathogenic</text>
<rect x="614.6" y="282.4" width="8.4" height="8.35" fill="#8d8d8d"/>
<text x="627.5" y="288.3" class="s">Intronic No evidence</text>
<rect x="614.6" y="290.75" width="8.4" height="8.35" fill="#bababa"/>
<text x="627.5" y="296.65" class="s">Intronic Benign</text>
<rect x="614.6" y="299.1" width="8.4" height="8.35" fill="#4f9b40"/>
<text x="627.5" y="305" class="s">Synonymous Pathogenic</text>
<rect x="614.6" y="307.45" width="8.4" height="8.35" fill="#85b673"/>
<text x="627.5" y="313.35" class="s">Synonymous No evidence</text>
<rect x="614.6" y="315.8" width="8.4" height="8.35" fill="#abcc9f"/>
<text x="627.5" y="321.7" class="s">Synonymous Benign</text>
</svg>
</body></html>
